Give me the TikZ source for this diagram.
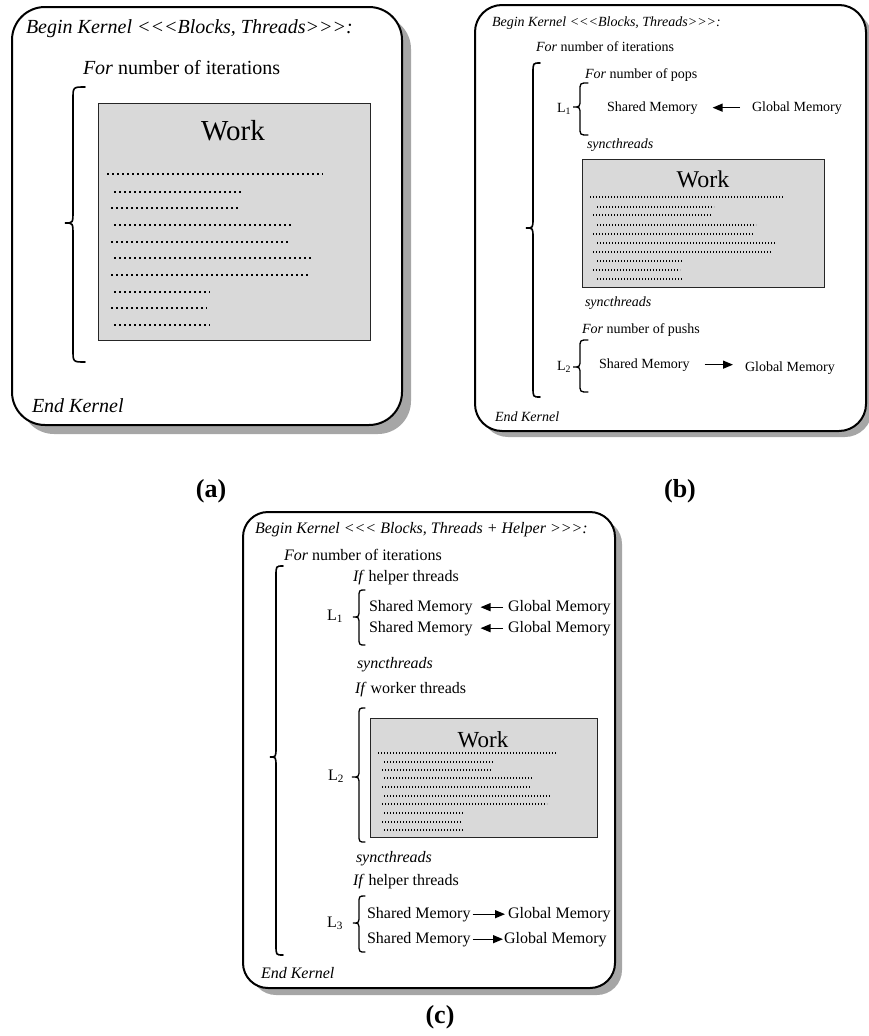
\documentclass[tikz,border=0pt]{standalone}
\usepackage{fontspec}
\setmainfont{Liberation Serif}
\usetikzlibrary{arrows.meta}

\definecolor{shadowgray}{RGB}{166,166,166}
\definecolor{workgray}{RGB}{217,217,217}

% angle-bracket triples, kept apart so the font mapping does not join them
\newcommand\ltrio{<\kern0pt<\kern0pt<}
\newcommand\gtrio{>\kern0pt>\kern0pt>}

\tikzset{
  panel/.style={draw=black, line width=2pt, fill=white, rounded corners=#1},
  panelshadow/.style={fill=shadowgray, draw=none, rounded corners=#1},
  workbox/.style={draw=black!85, line width=1.2pt, fill=workgray, anchor=north west, inner sep=0pt},
  txt/.style={anchor=base west, inner sep=0pt, outer sep=0pt},
  ctxt/.style={anchor=base, inner sep=0pt, outer sep=0pt},
  bracestyle/.style={draw=black, line width=1.6pt, line cap=round},
  smallbrace/.style={draw=black, line width=1.3pt, line cap=round},
  dotsA/.style={line width=1.6pt, dash pattern=on 2.4pt off 2.6pt},
  dotsB/.style={line width=1.1pt, dash pattern=on 1.4pt off 1.6pt},
  flow/.style={-{Triangle[length=10pt,width=8pt]}, line width=1.3pt},
  caption/.style={anchor=base, inner sep=0pt, font=\fontsize{26}{30}\selectfont\bfseries},
}

% left curly brace: #1 end x, #2 stem x, #3 tip x, #4 top y, #5 tip y, #6 bottom y, #7 curl, #8 style
\newcommand\kbrace[8]{%
  \draw[#8] (#1,#4) .. controls (#2,#4) .. (#2,#4+#7) -- (#2,#5-#7)
    .. controls (#2,#5) .. (#3,#5) .. controls (#2,#5) .. (#2,#5+#7)
    -- (#2,#6-#7) .. controls (#2,#6) .. (#1,#6);}

\begin{document}
\begin{tikzpicture}[x=1pt, y=-1pt]
\useasboundingbox (0,0) rectangle (869,1036);

% ---------------- panel (a) ----------------
\fill[panelshadow=33pt] (21,16) rectangle (411,434);
\draw[panel=33pt] (12,7) rectangle (402,425);
\begin{scope}[every node/.style={font=\fontsize{20}{24}\selectfont}]
  \node[txt] (abegin) at (26,33) {\itshape Begin Kernel \ltrio Blocks, Threads\gtrio:};
  \node[txt] (afor) at (83,74) {\textit{For} number of iterations};
  \node[txt] (aend) at (32,412) {\itshape End Kernel};
\end{scope}
\kbrace{85}{73}{65}{87}{223}{362}{12}{bracestyle}
\node[workbox, minimum width=272pt, minimum height=237pt] (awork) at (98,103) {};
\node[ctxt, font=\fontsize{29}{34}\selectfont] (aworkt) at (233,140) {Work};
\foreach \y/\xa/\xb in {174/107/323, 192/114/243, 208/111/239, 225/114/292, 242/111/288,
                        258/114/313, 275/111/310, 292/114/210, 308/111/207, 325/114/210}
  \draw[dotsA] (\xa,\y) -- (\xb,\y);

% ---------------- panel (b) ----------------
\fill[panelshadow=27pt] (481,11) rectangle (872,437);
\draw[panel=27pt] (475,5) rectangle (866,431);
\begin{scope}[every node/.style={font=\fontsize{14}{17}\selectfont}]
  \node[txt] (bbegin) at (492,26) {\itshape Begin Kernel \ltrio Blocks, Threads\gtrio:};
  \node[txt] (bfor) at (536,51) {\textit{For} number of iterations};
  \node[txt] (bpops) at (585,78) {\textit{For} number of pops};
  \node[txt] (bl1) at (557,112) {L\textsubscript{1}};
  \node[txt] (bsm1) at (607,111) {Shared Memory};
  \node[txt] (bgm1) at (752,111) {Global Memory};
  \node[txt] (bsync1) at (587,148) {\itshape syncthreads};
  \node[txt] (bsync2) at (585,306) {\itshape syncthreads};
  \node[txt] (bpush) at (582,333) {\textit{For} number of pushs};
  \node[txt] (bl2) at (557,370) {L\textsubscript{2}};
  \node[txt] (bsm2) at (599,368) {Shared Memory};
  \node[txt] (bgm2) at (745,371) {Global Memory};
  \node[txt] (bend) at (495,421) {\itshape End Kernel};
\end{scope}
\kbrace{540}{533}{526}{63}{228}{397}{10}{bracestyle}
\kbrace{588}{580}{573}{83}{107}{135}{8}{smallbrace}
\kbrace{588}{580}{573}{340}{367}{392}{8}{smallbrace}
\draw[flow, shorten <=12pt, shorten >=15pt] (bgm1.west) -- (bsm1.east);
\draw[flow, shorten <=15pt, shorten >=12pt] (bsm2.east) -- (bsm2.east -| bgm2.west);
\node[workbox, minimum width=242pt, minimum height=128pt] (bwork) at (582,159) {};
\node[ctxt, font=\fontsize{24}{28}\selectfont] (bworkt) at (703,187) {Work};
\foreach \y/\xa/\xb in {197/590/784, 207/597/714, 215/593/711, 225/597/756, 234/593/753,
                        243/597/775, 252/593/772, 261/597/683, 270/593/680, 279/597/683}
  \draw[dotsB] (\xa,\y) -- (\xb,\y);

% ---------------- panel (c) ----------------
\fill[panelshadow=25pt] (251,519) rectangle (622,995);
\draw[panel=25pt] (243,512) rectangle (615,988);
\begin{scope}[every node/.style={font=\fontsize{16}{19}\selectfont}]
  \node[txt] (cbegin) at (255,533) {\itshape Begin Kernel \ltrio\ Blocks, Threads + Helper \gtrio:};
  \node[txt] (cfor) at (284,560) {\textit{For} number of iterations};
  \node[txt] (cif1) at (353,581) {\textit{If} helper threads};
  \node[txt] (cl1) at (327,620) {L\textsubscript{1}};
  \node[txt] (csm1) at (369,611) {Shared Memory};
  \node[txt] (cgm1) at (508,611) {Global Memory};
  \node[txt] (csm2) at (369,632) {Shared Memory};
  \node[txt] (cgm2) at (508,632) {Global Memory};
  \node[txt] (csync1) at (357,668) {\itshape syncthreads};
  \node[txt] (cif2) at (355,693) {\textit{If} worker threads};
  \node[txt] (cl2) at (328,780) {L\textsubscript{2}};
  \node[txt] (csync2) at (356,862) {\itshape syncthreads};
  \node[txt] (cif3) at (353,885) {\textit{If} helper threads};
  \node[txt] (cl3) at (327,927) {L\textsubscript{3}};
  \node[txt] (csm3) at (367,918) {Shared Memory};
  \node[txt] (cgm3) at (508,918) {Global Memory};
  \node[txt] (csm4) at (367,943) {Shared Memory};
  \node[txt] (cgm4) at (504,943) {Global Memory};
  \node[txt] (cend) at (261,978) {\itshape End Kernel};
\end{scope}
\kbrace{283}{276}{270}{566}{757}{955}{10}{bracestyle}
\kbrace{365}{359}{353}{590}{617}{645}{8}{smallbrace}
\kbrace{365}{359}{352}{708}{777}{842}{8}{smallbrace}
\kbrace{365}{359}{353}{896}{923}{952}{8}{smallbrace}
\draw[flow, shorten <=5pt, shorten >=8pt] (cgm1.west) -- (csm1.east);
\draw[flow, shorten <=5pt, shorten >=8pt] (cgm2.west) -- (csm2.east);
\draw[flow, shorten <=2pt, shorten >=3pt] (csm3.east) -- (cgm3.west);
\draw[flow, shorten <=2pt, shorten >=1pt] (csm4.east) -- (cgm4.west);
\node[workbox, minimum width=227pt, minimum height=119pt] (cwork) at (370,718) {};
\node[ctxt, font=\fontsize{23}{27}\selectfont] (cworkt) at (483,747) {Work};
\foreach \y/\xa/\xb in {753/378/557, 762/384/494, 770/382/491, 778/384/533, 787/382/530,
                        796/384/550, 804/382/547, 813/384/464, 822/382/462, 830/384/464}
  \draw[dotsB] (\xa,\y) -- (\xb,\y);

% ---------------- captions ----------------
\node[caption] (capa) at (211,497) {(a)};
\node[caption] (capb) at (680,497) {(b)};
\node[caption] (capc) at (440,1023) {(c)};
\end{tikzpicture}
\end{document}
